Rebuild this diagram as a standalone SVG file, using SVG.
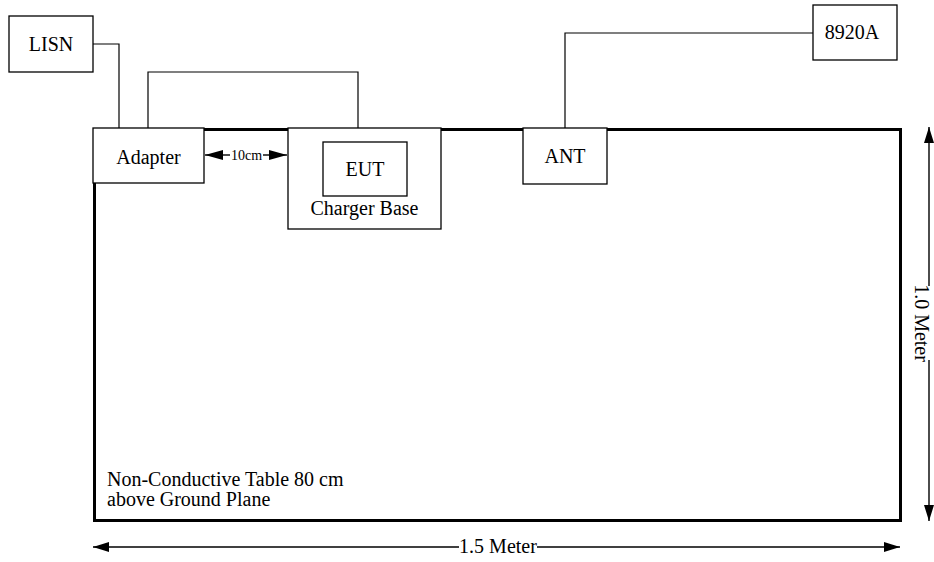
<svg xmlns="http://www.w3.org/2000/svg" width="934" height="562" viewBox="0 0 934 562">
<style>
.box{fill:#fff;stroke:#000;stroke-width:1.3}
.wire{fill:none;stroke:#000;stroke-width:1.2}
.dim{fill:none;stroke:#000;stroke-width:1.4}
text{font-family:'Liberation Serif','Times New Roman','DejaVu Serif',serif;font-size:20px;fill:#000}
.c{text-anchor:middle}
.s{font-size:14px}
</style>
<defs>
<marker id="ah" viewBox="0 0 16 10" refX="16" refY="5" markerWidth="16" markerHeight="11" markerUnits="userSpaceOnUse" orient="auto-start-reverse">
<path d="M0,0 L16,5 L0,10 Z" fill="#000"/>
</marker>
<marker id="ah2" viewBox="0 0 18 10" refX="18" refY="5" markerWidth="18" markerHeight="10" markerUnits="userSpaceOnUse" orient="auto-start-reverse">
<path d="M0,0 L18,5 L0,10 Z" fill="#000"/>
</marker>
</defs>
<rect width="934" height="562" fill="#fff"/>
<g id="table">
<rect x="94.5" y="129.5" width="806" height="391" fill="#fff" stroke="#000" stroke-width="3"/>
<text x="107" y="486">Non-Conductive Table 80 cm</text>
<text x="107" y="506">above Ground Plane</text>
</g>
<g id="connectors">
<polyline class="wire" points="93,44 119,44 119,128"/>
<polyline class="wire" points="148,128 148,72 358,72 358,128"/>
<polyline class="wire" points="565,128 565,33 813,33"/>
<line class="dim" x1="205" y1="155" x2="230" y2="155" marker-start="url(#ah2)"/>
<line class="dim" x1="263" y1="155" x2="287" y2="155" marker-end="url(#ah2)"/>
<line class="dim" x1="929" y1="127" x2="929" y2="286" marker-start="url(#ah)"/>
<line class="dim" x1="929" y1="360" x2="929" y2="521" marker-end="url(#ah)"/>
<line class="dim" x1="93" y1="547" x2="459" y2="547" marker-start="url(#ah)"/>
<line class="dim" x1="537" y1="547" x2="900" y2="547" marker-end="url(#ah)"/>
</g>
<g id="lisn">
<rect class="box" x="9" y="16" width="84" height="56"/>
<text class="c" x="51" y="51">LISN</text>
</g>
<g id="adapter">
<rect class="box" x="93" y="128" width="111" height="55"/>
<text class="c" x="148.5" y="164">Adapter</text>
</g>
<g id="charger-base">
<rect class="box" x="288" y="128" width="153" height="101"/>
<text class="c" x="364.5" y="215">Charger Base</text>
</g>
<g id="eut">
<rect class="box" x="323" y="142" width="84" height="54"/>
<text class="c" x="365" y="176">EUT</text>
</g>
<g id="ant">
<rect class="box" x="523" y="128" width="84" height="56"/>
<text class="c" x="565" y="163">ANT</text>
</g>
<g id="hp8920a">
<rect class="box" x="813" y="5" width="84" height="55"/>
<text class="c" x="852" y="39">8920A</text>
</g>
<g id="labels">
<text class="c s" x="246.5" y="160">10cm</text>
<text class="c" x="498" y="553">1.5 Meter</text>
<text class="c" transform="translate(915,323) rotate(90)">1.0 Meter</text>
</g>
</svg>
